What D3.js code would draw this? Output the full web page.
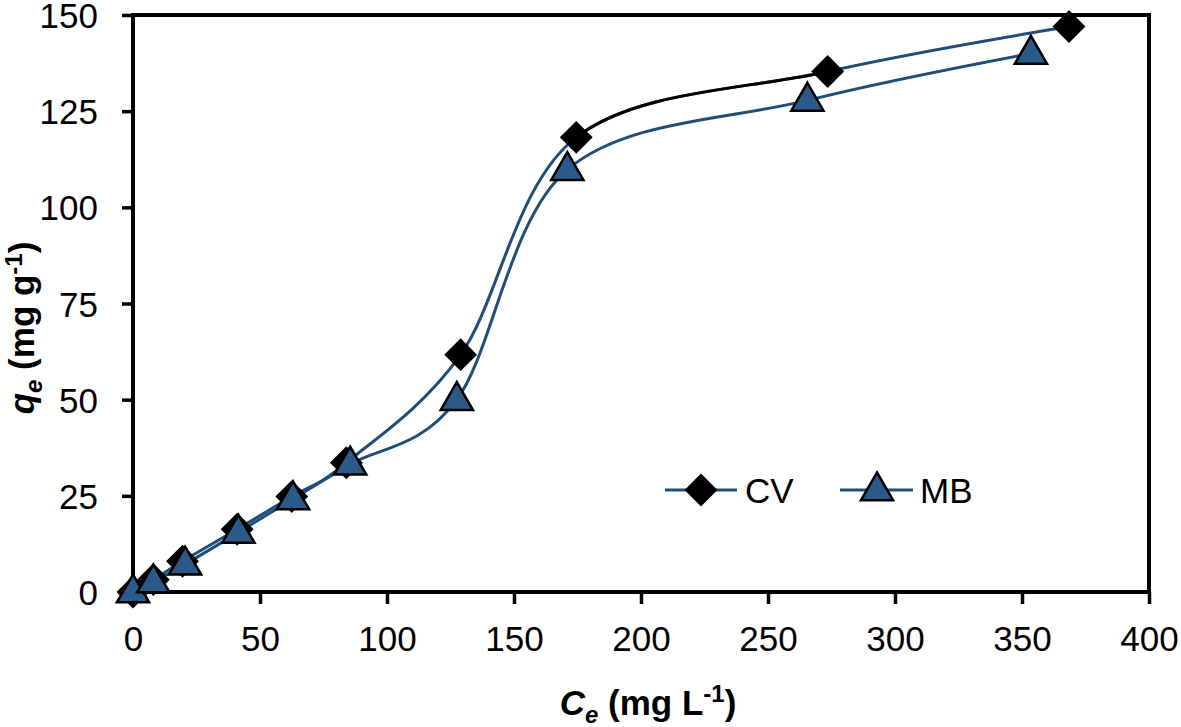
<!DOCTYPE html>
<html><head><meta charset="utf-8">
<script src="https://cdn.jsdelivr.net/npm/d3@7"></script>
<style>body{margin:0;background:#fff}svg{display:block}text{font-family:"Liberation Sans",Arial,sans-serif}</style>
</head><body><svg id="c" width="1181" height="727"></svg>
<script>
const cvX = [0, 8, 19.5, 41, 62.5, 84, 129, 174.5, 273.5, 368.5];
const cvY = [0, 3.2, 8, 16.3, 24.8, 33.6, 61.7, 118.2, 135.3, 147];
const mbX = [0, 8, 20.5, 41.5, 63, 85.5, 127.5, 171, 265.5, 353.5];
const mbY = [0, 2.6, 7.2, 15.5, 24.2, 33.2, 50, 109.8, 127.8, 140];
const xTicks = [0, 50, 100, 150, 200, 250, 300, 350, 400];
const yTicks = [0, 25, 50, 75, 100, 125, 150];
const seriesNames = ["CV", "MB"];

const svg = d3.select("#c");
const L = 133, R = 1149, T = 15, B = 592;
const x = d3.scaleLinear().domain([0, 400]).range([L, R]);
const y = d3.scaleLinear().domain([0, 150]).range([B, T]);
const blue = "#1f4e79", triFill = "#2b5a8a";

// axes
const xa = svg.append("g").attr("transform", `translate(0,${B})`)
  .call(d3.axisBottom(x).tickValues(xTicks).tickSize(12).tickPadding(22).tickFormat(d3.format("d")));
const ya = svg.append("g").attr("transform", `translate(${L},0)`)
  .call(d3.axisLeft(y).tickValues(yTicks).tickSize(11).tickPadding(24).tickFormat(d3.format("d")));
[xa, ya].forEach(g => {
  g.select(".domain").remove();
  g.selectAll("line").attr("stroke", "#000").attr("stroke-width", 3.5);
  g.selectAll("text").attr("font-size", 35).attr("fill", "#000").attr("font-family", "Liberation Sans, Arial, sans-serif");
});
ya.selectAll("text").attr("dy", "0.36em");
xa.selectAll("text").attr("dy", "0.71em");
// frame
svg.append("rect").attr("x", L).attr("y", T).attr("width", R - L).attr("height", B - T)
  .attr("fill", "none").attr("stroke", "#000").attr("stroke-width", 4);

const line = d3.line().x(d => x(d[0])).y(d => y(d[1])).curve(d3.curveCatmullRom.alpha(0));
const cv = cvX.map((v, i) => [v, cvY[i]]);
const mb = mbX.map((v, i) => [v, mbY[i]]);

svg.append("path").datum(cv).attr("d", line).attr("fill", "none").attr("stroke", blue).attr("stroke-width", 3);
// black segment between the 175 and 274 points (as in reference)
svg.append("clipPath").attr("id", "seg").append("rect")
  .attr("x", x(cvX[7]) + 8).attr("y", 0).attr("width", x(cvX[8]) - x(cvX[7]) - 16).attr("height", 727);
svg.append("path").datum(cv).attr("d", line).attr("fill", "none").attr("stroke", "#000").attr("stroke-width", 3)
  .attr("clip-path", "url(#seg)");
svg.append("path").datum(mb).attr("d", line).attr("fill", "none").attr("stroke", blue).attr("stroke-width", 3);

const diamond = d3.symbol().type(d3.symbolSquare).size(540);
const tri = d3.symbol().type(d3.symbolTriangle).size(450);

svg.append("g").selectAll("path").data(cv).join("path")
  .attr("d", diamond).attr("transform", d => `translate(${x(d[0])},${y(d[1])}) rotate(45)`)
  .attr("fill", "#000");
svg.append("g").selectAll("path").data(mb).join("path")
  .attr("d", tri).attr("transform", d => `translate(${x(d[0])},${y(d[1]) + 1})`)
  .attr("fill", triFill).attr("stroke", "#000").attr("stroke-width", 2.5);

// legend
const lg = svg.append("g");
[[665, 737, 701, 745], [840, 913, 877, 920]].forEach((p, i) => {
  lg.append("line").attr("x1", p[0]).attr("x2", p[1]).attr("y1", 490).attr("y2", 490)
    .attr("stroke", blue).attr("stroke-width", 3);
  lg.append("path").attr("d", i === 0 ? diamond : tri)
    .attr("transform", i === 0 ? `translate(${p[2]},490) rotate(45)` : `translate(${p[2]},491)`)
    .attr("fill", i === 0 ? "#000" : triFill).attr("stroke", i === 0 ? "none" : "#000").attr("stroke-width", 2.5);
  lg.append("text").attr("x", p[3]).attr("y", 503).attr("font-size", 35).text(seriesNames[i]);
});

// axis titles
const xt = svg.append("text").attr("x", 648).attr("y", 715).attr("text-anchor", "middle")
  .attr("font-size", 35).attr("font-weight", "bold");
xt.append("tspan").attr("font-style", "italic").text("C");
xt.append("tspan").attr("font-style", "italic").attr("font-size", 24).attr("dy", 8).text("e");
xt.append("tspan").attr("dy", -8).text(" (mg L");
xt.append("tspan").attr("font-size", 24).attr("dy", -13).text("-1");
xt.append("tspan").attr("dy", 13).text(")");

const yt = svg.append("text").attr("transform", "translate(34,328) rotate(-90)").attr("text-anchor", "middle")
  .attr("font-size", 35).attr("font-weight", "bold");
yt.append("tspan").attr("font-style", "italic").text("q");
yt.append("tspan").attr("font-style", "italic").attr("font-size", 24).attr("dy", 8).text("e");
yt.append("tspan").attr("dy", -8).text(" (mg g");
yt.append("tspan").attr("font-size", 24).attr("dy", -12).text("-1");
yt.append("tspan").attr("dy", 12).text(")");
</script></body></html>
